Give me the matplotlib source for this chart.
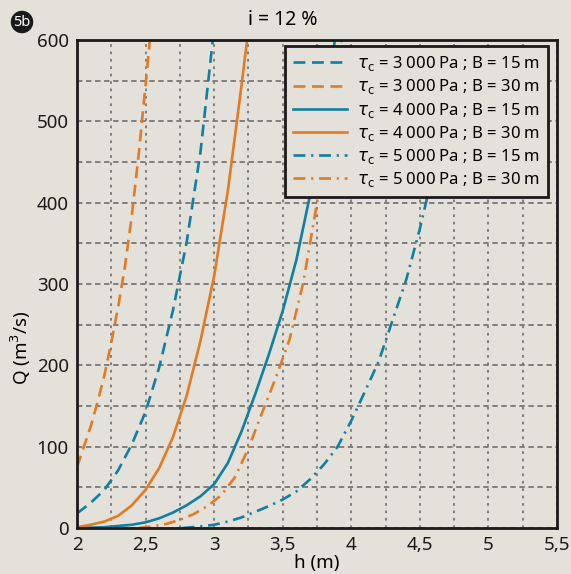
import matplotlib
matplotlib.use("Agg")
import matplotlib.pyplot as plt
from matplotlib.ticker import MultipleLocator, FuncFormatter

plt.rcParams['font.family'] = ['Noto Sans', 'DejaVu Sans']
plt.rcParams['mathtext.fontset'] = 'dejavusans'

BG = '#e4e0da'
BLUE = '#0f7fa2'
ORANGE = '#e27b22'

# (h, Q), one pair of lists per curve
h_3000_15 = [2.0, 2.1, 2.2, 2.3, 2.4, 2.5, 2.6, 2.7, 2.8, 2.9, 2.99]
q_3000_15 = [18, 31, 47, 71, 103, 143, 198, 268, 352, 462, 600]

h_3000_30 = [2.0, 2.05, 2.1, 2.15, 2.2, 2.25, 2.3, 2.35, 2.4, 2.45, 2.5, 2.53]
q_3000_30 = [75, 100, 125, 155, 188, 228, 272, 322, 385, 460, 545, 598]

h_4000_15 = [2.0, 2.2, 2.4, 2.5, 2.6, 2.7, 2.8, 2.9, 3.0, 3.1, 3.2, 3.3, 3.4, 3.5, 3.6, 3.7, 3.8, 3.88]
q_4000_15 = [0, 1, 4, 7, 12, 19, 28, 39, 54, 80, 119, 165, 214, 267, 330, 410, 505, 600]

h_4000_30 = [2.0, 2.1, 2.2, 2.3, 2.4, 2.5, 2.6, 2.7, 2.8, 2.9, 3.0, 3.1, 3.2, 3.24]
q_4000_30 = [1, 4, 8, 15, 28, 47, 74, 112, 163, 230, 310, 415, 545, 600]

h_5000_15 = [2.77, 2.9, 3.0, 3.1, 3.2, 3.3, 3.4, 3.5, 3.6, 3.7, 3.8, 3.9, 4.0,
             4.1, 4.2, 4.3, 4.4, 4.5, 4.6, 4.7, 4.78]
q_5000_15 = [0, 2, 4, 8, 13, 20, 27, 35, 45, 60, 78, 100, 132,
             168, 205, 255, 305, 368, 440, 520, 600]

h_5000_30 = [2.45, 2.55, 2.65, 2.75, 2.85, 2.95, 3.05, 3.15, 3.25, 3.35, 3.45, 3.55,
             3.65, 3.75, 3.85, 3.93]
q_5000_30 = [0, 2, 5, 10, 17, 27, 40, 62, 98, 142, 185, 232,
             302, 400, 505, 600]

labels = [r'$\tau_{\rm c}$ = 3 000 Pa ; B = 15 m',
          r'$\tau_{\rm c}$ = 3 000 Pa ; B = 30 m',
          r'$\tau_{\rm c}$ = 4 000 Pa ; B = 15 m',
          r'$\tau_{\rm c}$ = 4 000 Pa ; B = 30 m',
          r'$\tau_{\rm c}$ = 5 000 Pa ; B = 15 m',
          r'$\tau_{\rm c}$ = 5 000 Pa ; B = 30 m']

fig = plt.figure(figsize=(5.71, 5.74), dpi=100, facecolor=BG)
ax = fig.add_axes([0.1349, 0.0801, 0.8406, 0.8502], facecolor=BG)

dash = (4.5, 2.5)
dashdot = (4.5, 2.2, 0.8, 2.2)
lw = 1.9
ax.plot(h_3000_15, q_3000_15, color=BLUE, lw=lw, linestyle=(0, dash), label=labels[0])
ax.plot(h_3000_30, q_3000_30, color=ORANGE, lw=lw, linestyle=(0, dash), label=labels[1])
ax.plot(h_4000_15, q_4000_15, color=BLUE, lw=lw, label=labels[2])
ax.plot(h_4000_30, q_4000_30, color=ORANGE, lw=lw, label=labels[3])
ax.plot(h_5000_15, q_5000_15, color=BLUE, lw=lw, linestyle=(0, dashdot), label=labels[4])
ax.plot(h_5000_30, q_5000_30, color=ORANGE, lw=lw, linestyle=(0, dashdot), label=labels[5])

ax.set_xlim(2, 5.5)
ax.set_ylim(0, 600)
ax.xaxis.set_major_locator(MultipleLocator(0.5))
ax.xaxis.set_minor_locator(MultipleLocator(0.25))
ax.yaxis.set_major_locator(MultipleLocator(100))
ax.yaxis.set_minor_locator(MultipleLocator(50))
ax.xaxis.set_major_formatter(FuncFormatter(lambda v, p: f'{v:g}'.replace('.', ',')))
ax.tick_params(which='both', length=0, labelsize=13.5, pad=6, colors='#1a1a1a')

ax.grid(which='both', axis='x', color='#777777', lw=1.3, linestyle=(0, (1.5, 2.6)))
ax.grid(which='both', axis='y', color='#777777', lw=1.3, linestyle=(0, (3, 2)))
ax.set_axisbelow(True)

for s in ax.spines.values():
    s.set_linewidth(2)
    s.set_color('#1a1a1a')

ax.set_xlabel('h (m)', fontsize=13.5, labelpad=0)
ax.set_ylabel('Q (m$^3$/s)', fontsize=13.5)
ax.yaxis.set_label_coords(-0.092, 0.37)

leg = ax.legend(loc='upper right', bbox_to_anchor=(0.981, 0.988), borderaxespad=0,
                fontsize=12, frameon=True, fancybox=False, handlelength=3.2,
                labelspacing=0.25, borderpad=0.5, handletextpad=0.6)
leg.get_frame().set_facecolor(BG)
leg.get_frame().set_edgecolor('#1a1a1a')
leg.get_frame().set_linewidth(2)
leg.get_frame().set_alpha(1)

fig.text(283 / 571, 1 - 20 / 574, 'i = 12 %', ha='center', va='center', fontsize=14)
fig.text(22 / 571, 1 - 22 / 574, '5b', ha='center', va='center', fontsize=10.5,
         fontweight='bold', color='white',
         bbox=dict(boxstyle='circle,pad=0.18', fc='#1a1a1a', ec='none'))

fig.savefig('out.png', dpi=100, facecolor=BG)
